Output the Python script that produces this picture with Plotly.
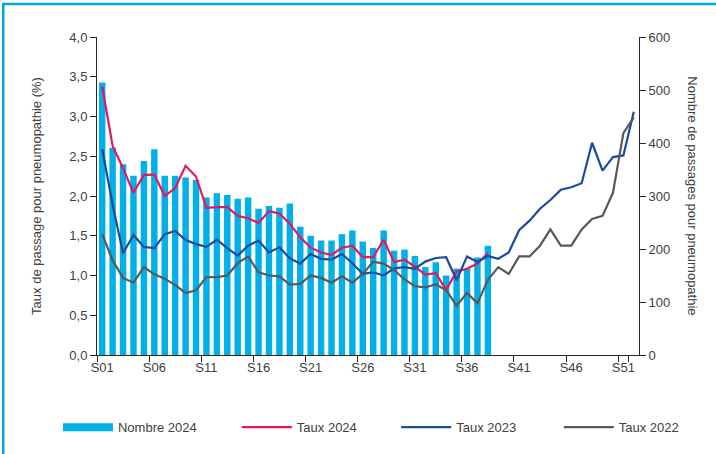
import plotly.graph_objects as go

weeks = [f"S{i:02d}" for i in range(1, 53)]
tick_weeks = [f"S{i:02d}" for i in range(1, 53, 5)]

nombre_2024 = [514, 391, 360, 338, 366, 388, 338, 338, 335, 330,
               297, 305, 302, 295, 297, 276, 281, 278, 286, 242,
               225, 216, 216, 228, 235, 214, 202, 235, 197, 199,
               187, 166, 175, 150, 163, 163, 184, 206]

taux_2024 = [3.375, 2.63, 2.35, 2.04, 2.265, 2.27, 2.0, 2.10, 2.38, 2.245,
             1.85, 1.86, 1.86, 1.75, 1.72, 1.66, 1.81, 1.78, 1.65, 1.48,
             1.35, 1.29, 1.26, 1.35, 1.375, 1.23, 1.23, 1.45, 1.17, 1.20,
             1.11, 1.01, 1.03, 0.82, 1.05, 1.085, 1.15, 1.28]

taux_2023 = [2.59, 1.89, 1.28, 1.51, 1.36, 1.345, 1.52, 1.56, 1.445, 1.395,
             1.36, 1.45, 1.345, 1.25, 1.375, 1.44, 1.29, 1.354, 1.215, 1.15,
             1.27, 1.21, 1.20, 1.27, 1.155, 1.02, 1.04, 1.00, 1.09, 1.105,
             1.085, 1.175, 1.22, 1.23, 0.94, 1.24, 1.17, 1.245, 1.21, 1.29,
             1.57, 1.69, 1.84, 1.95, 2.08, 2.11, 2.16, 2.67, 2.32, 2.49,
             2.51, 3.06]

taux_2022 = [1.52, 1.19, 0.97, 0.91, 1.105, 1.015, 0.96, 0.88, 0.78, 0.815,
             0.98, 0.98, 1.0, 1.155, 1.24, 1.04, 1.0, 0.99, 0.886, 0.895,
             1.0, 0.97, 0.91, 0.99, 0.91, 1.02, 1.175, 1.15, 1.07, 0.95,
             0.865, 0.85, 0.89, 0.815, 0.62, 0.78, 0.65, 0.945, 1.105, 1.02,
             1.24, 1.24, 1.375, 1.58, 1.375, 1.375, 1.58, 1.71, 1.75, 2.04,
             2.79, 2.99]

FONT = "Liberation Sans, Arial, sans-serif"
AXIS_COL = "#262626"
TEXT_COL = "#404040"
BAR_COL = "#00B0E6"

fig = go.Figure()
fig.add_trace(go.Bar(x=weeks[:len(nombre_2024)], y=nombre_2024, name="Nombre 2024",
                     marker=dict(color=BAR_COL, line=dict(width=0)), yaxis="y",
                     showlegend=False, legendgroup="n24"))
# legend entry for the bars, drawn as a wide block like the original
fig.add_trace(go.Scatter(x=[None], y=[None], name="Nombre 2024", mode="lines",
                         line=dict(color=BAR_COL, width=8), yaxis="y", legendgroup="n24",
                         legend="legend"))
fig.add_trace(go.Scatter(x=weeks[:len(taux_2024)], y=taux_2024, name="Taux 2024", mode="lines",
                         line=dict(color="#E5175E", width=2.2), yaxis="y2", legend="legend2"))
fig.add_trace(go.Scatter(x=weeks, y=taux_2023, name="Taux 2023", mode="lines",
                         line=dict(color="#1B4B9E", width=2.2), yaxis="y2", legend="legend3"))
fig.add_trace(go.Scatter(x=weeks, y=taux_2022, name="Taux 2022", mode="lines",
                         line=dict(color="#595959", width=2.2), yaxis="y2", legend="legend4"))


def leg(x):
    return dict(orientation="h", x=x, xanchor="left", y=-0.227, yanchor="middle",
                itemwidth=50, bgcolor="rgba(0,0,0,0)",
                font=dict(family=FONT, size=13, color=TEXT_COL))


fig.update_layout(
    width=716, height=454,
    margin=dict(l=97, r=77, t=37, b=95),
    paper_bgcolor="white", plot_bgcolor="white",
    separators=", ",
    font=dict(family=FONT, size=13, color=TEXT_COL),
    bargap=0.38,
    showlegend=True,
    legend=leg(-0.072), legend2=leg(0.258), legend3=leg(0.552), legend4=leg(0.852),
    xaxis=dict(type="category", categoryorder="array", categoryarray=weeks,
               range=[-0.5, 51.5], tickmode="array", tickvals=tick_weeks,
               tickson="boundaries", ticks="outside", ticklen=6, tickcolor=AXIS_COL,
               tickangle=0, automargin=False,
               showline=True, linecolor=AXIS_COL, linewidth=1, showgrid=False,
               tickfont=dict(size=13, color=TEXT_COL)),
    yaxis=dict(side="right", range=[0, 600], dtick=100, tick0=0, showgrid=False,
               showline=True, linecolor=AXIS_COL, linewidth=1, ticks="outside",
               ticklen=6, tickcolor=AXIS_COL, zeroline=False, automargin=False,
               tickfont=dict(size=13, color=TEXT_COL)),
    yaxis2=dict(side="left", overlaying="y", range=[0, 4], dtick=0.5, tick0=0,
                tickformat=".1f", showgrid=False, showline=True, linecolor=AXIS_COL,
                linewidth=1, ticks="outside", ticklen=6, tickcolor=AXIS_COL,
                zeroline=False, automargin=False, tickfont=dict(size=13, color=TEXT_COL),
                title=dict(text="Taux de passage pour pneumopathie (%)", standoff=24,
                           font=dict(size=13, color=TEXT_COL))),
    annotations=[dict(text="Nombre de passages pour pneumopathie", textangle=90,
                      xref="paper", yref="paper", x=1.099, y=0.5, xanchor="center",
                      yanchor="middle", showarrow=False,
                      font=dict(size=13, color=TEXT_COL, family=FONT))],
    shapes=[dict(type="rect", xref="paper", yref="paper", x0=-0.173, x1=1.5,
                 y0=-1.0, y1=1.104, line=dict(color="#00A6DC", width=2.5),
                 fillcolor="rgba(0,0,0,0)", layer="below")],
)

fig.write_html("out.html", config={"displayModeBar": False},
               post_script="document.body.style.margin='0';")
